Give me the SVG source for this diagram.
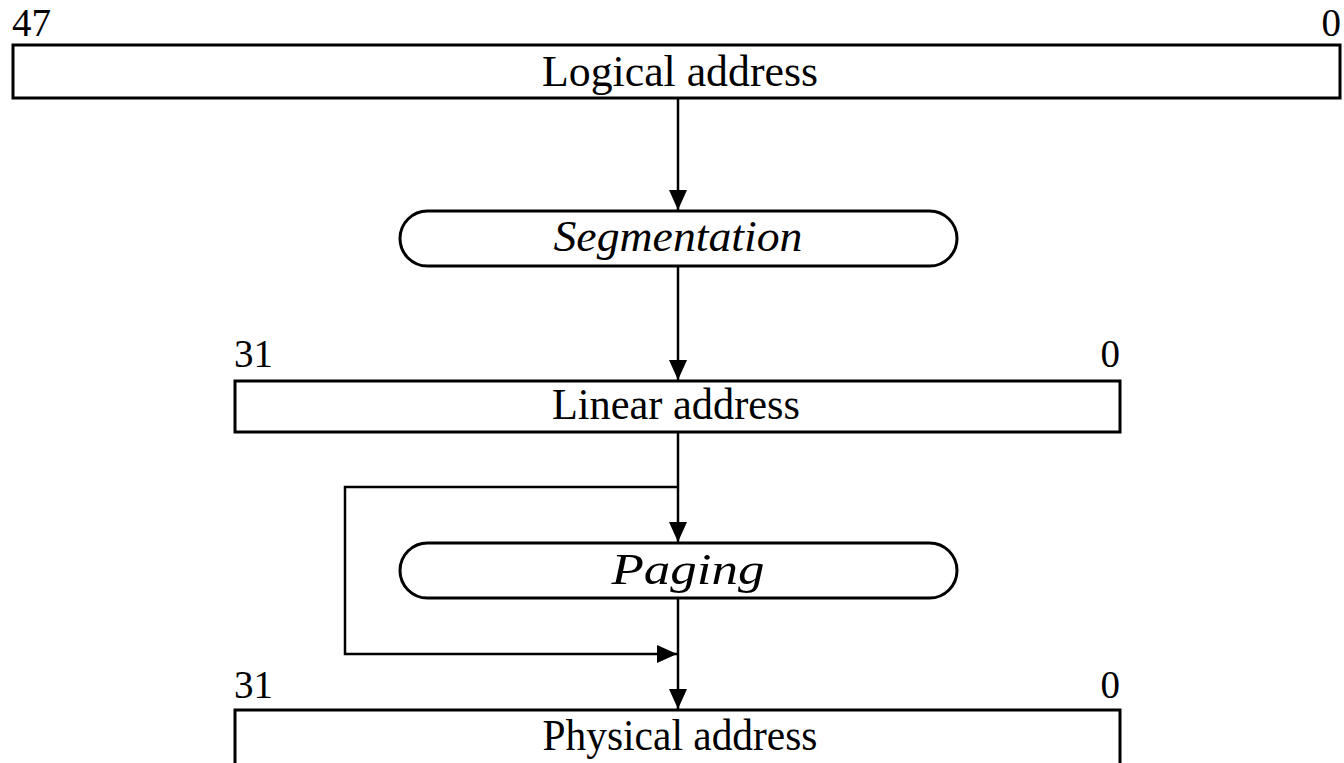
<svg xmlns="http://www.w3.org/2000/svg" width="1344" height="763" viewBox="0 0 1344 763">
<style>
.box{fill:#fff;stroke:#000;stroke-width:3}
.line{fill:none;stroke:#000;stroke-width:2.5}
.lbl{font-family:"Liberation Serif","Times New Roman",serif;font-size:44px;fill:#000}
.it{font-style:italic}
.num{font-family:"Liberation Serif","Times New Roman",serif;font-size:39px;fill:#000}
</style>
<defs>
<marker id="ah" viewBox="0 0 20 20" refX="20" refY="10" markerWidth="20" markerHeight="20" markerUnits="userSpaceOnUse" orient="auto">
<path d="M0,1 L20,10 L0,19 Z" fill="#000"/>
</marker>
</defs>
<g id="connectors">
<line class="line" x1="678" y1="99" x2="678" y2="210" marker-end="url(#ah)"/>
<line class="line" x1="678" y1="267" x2="678" y2="380" marker-end="url(#ah)"/>
<line class="line" x1="678" y1="432" x2="678" y2="542" marker-end="url(#ah)"/>
<line class="line" x1="678" y1="598" x2="678" y2="709" marker-end="url(#ah)"/>
<polyline class="line" points="678,487 345,487 345,654 677,654" marker-end="url(#ah)"/>
</g>
<g id="logical">
<text class="num" x="12" y="36">47</text>
<text class="num" x="1341" y="36" text-anchor="end">0</text>
<rect class="box" x="13" y="45" width="1327" height="53"/>
<text class="lbl" x="680" y="86" text-anchor="middle" textLength="276" lengthAdjust="spacingAndGlyphs">Logical address</text>
</g>
<g id="segmentation">
<rect class="box" x="400" y="211" width="557" height="55" rx="27.5" ry="27.5"/>
<text class="lbl it" x="678" y="251" text-anchor="middle" textLength="249" lengthAdjust="spacingAndGlyphs">Segmentation</text>
</g>
<g id="linear">
<text class="num" x="234" y="367">31</text>
<text class="num" x="1120" y="367" text-anchor="end">0</text>
<rect class="box" x="235" y="381" width="885" height="51"/>
<text class="lbl" x="676" y="419" text-anchor="middle" textLength="248" lengthAdjust="spacingAndGlyphs">Linear address</text>
</g>
<g id="paging">
<rect class="box" x="400" y="543" width="557" height="55" rx="27.5" ry="27.5"/>
<text class="lbl it" x="688" y="584" text-anchor="middle" textLength="153" lengthAdjust="spacingAndGlyphs">Paging</text>
</g>
<g id="physical">
<text class="num" x="234" y="698">31</text>
<text class="num" x="1120" y="698" text-anchor="end">0</text>
<path class="box" d="M235,775 L235,710 L1120,710 L1120,775"/>
<text class="lbl" x="680" y="750" text-anchor="middle" textLength="275" lengthAdjust="spacingAndGlyphs">Physical address</text>
</g>
</svg>
